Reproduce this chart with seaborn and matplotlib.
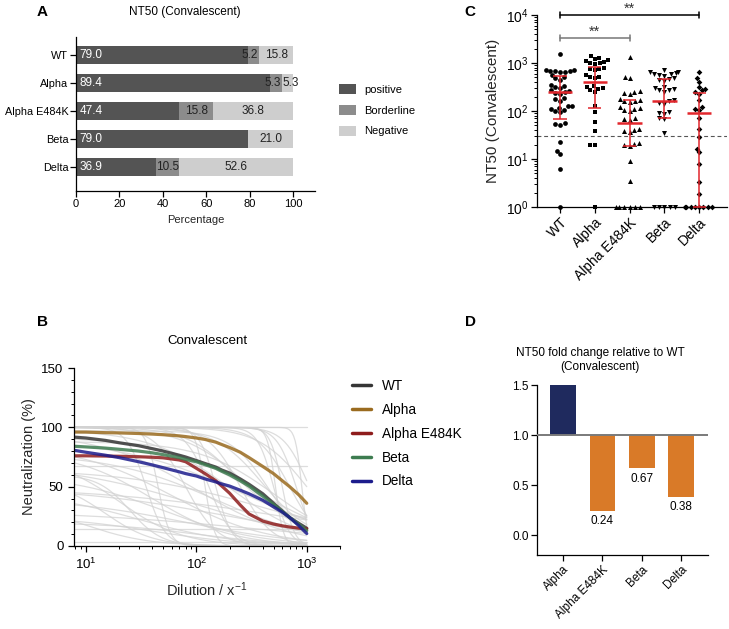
import numpy as np
import pandas as pd
import matplotlib
matplotlib.use('Agg')
import matplotlib.pyplot as plt
import seaborn as sns
from matplotlib.lines import Line2D
from matplotlib.patches import Patch
from matplotlib.ticker import MultipleLocator, LogLocator, NullFormatter
import warnings
warnings.filterwarnings('ignore')

# ---------------- data ----------------
variants = ['WT', 'Alpha', 'Alpha E484K', 'Beta', 'Delta']

# Panel A : percentage of samples
pct_positive = [79.0, 89.4, 47.4, 79.0, 36.9]
pct_borderline = [5.2, 5.3, 15.8, 0.0, 10.5]
pct_negative = [15.8, 5.3, 36.8, 21.0, 52.6]
status_labels = ['positive', 'Borderline', 'Negative']

# Panel C : NT50 values per variant
nt50_wt = [1550, 720, 700, 690, 680, 670, 660, 640, 560, 520, 480, 450, 340, 330, 310,
           300, 270, 255, 245, 235, 225, 185, 175, 165, 130, 125, 118, 112, 105, 100,
           95, 56, 54, 52, 23, 15, 12.5, 6.2, 1]
nt50_alpha = [1400, 1250, 1200, 1150, 1100, 1050, 1000, 980, 950, 800, 760, 740, 700,
              560, 520, 500, 480, 330, 310, 300, 290, 270, 250, 125, 95, 59, 38, 20, 20, 1]
nt50_e484k = [1340, 520, 480, 260, 250, 240, 230, 180, 170, 165, 160, 155, 120, 115, 110,
              105, 100, 70, 68, 66, 42, 40, 38, 36, 22, 21, 20, 19, 9, 3.4, 1, 1, 1, 1, 1, 1]
nt50_beta = [700, 650, 640, 620, 600, 580, 560, 540, 480, 460, 440, 420, 320, 300, 290,
             280, 270, 250, 170, 160, 150, 140, 95, 92, 88, 70, 68, 34, 1, 1, 1, 1, 1]
nt50_delta = [660, 480, 410, 320, 290, 270, 250, 230, 170, 120, 110, 105, 70, 43, 29,
              16.5, 14, 8, 3.3, 1.9, 1, 1, 1, 1, 1, 1, 1, 1]
nt50_median = [245, 410, 57, 162, 92]
nt50_q_low = [68, 118, 18.6, 73, 1]
nt50_q_high = [535, 830, 170, 460, 240]
nt50_threshold = 30
sig_pairs = [('WT', 'Delta', 10000, '**'), ('WT', 'Alpha E484K', 3300, '**')]

# Panel B : mean neutralisation curves
dilutions = [8, 10, 15, 20, 30, 40, 50, 70, 80, 100, 120, 150, 170, 200, 250, 300, 400,
             500, 600, 700, 850, 1000]
neut_wt = [91.7, 91, 89, 87, 84.5, 82, 80, 76.5, 75, 72, 69.5, 66.5, 64, 61.5, 56.5, 52,
           44, 36, 29.5, 24, 19, 15]
neut_alpha = [96, 96, 95.5, 95.3, 94.8, 94.3, 93.8, 92.8, 92.2, 91, 89.8, 87.5, 85.5, 83,
              79, 74.5, 67, 61, 55, 50, 43, 36]
neut_e484k = [76, 76, 75.8, 75.6, 75.2, 74.8, 74.3, 72.5, 71, 65.5, 61, 55, 50.5, 44.5,
              34.5, 27, 21, 18.5, 17, 16, 15, 14.5]
neut_beta = [84, 83.5, 82.5, 81.5, 80, 78.5, 77, 74.5, 73, 71, 68.5, 65.5, 63, 60, 55,
             50.5, 42, 35, 29, 24, 18, 13]
neut_delta = [80.5, 79, 76.5, 74.5, 71, 68.3, 66, 62.5, 61, 59, 56.5, 54, 52.3, 50.5, 47,
              44, 38.5, 33, 28.5, 24, 17, 10.5]

# individual fitted curves (4PL parameters) shown in grey
gray_top = [100, 100, 100, 100, 100, 100, 98, 100, 100, 95, 90, 85, 100, 100, 80, 75, 70,
            60, 55, 50, 45, 40, 35, 30, 25, 100, 67, 14, 3, 100, 100, 92, 88, 100, 65, 100,
            100, 78, 50, 20, 100, 97, 60, 100, 100]
gray_bottom = [0, 0, 0, 0, 5, 0, 0, 0, 0, 0, 0, 0, 0, 0, 0, 0, 0, 0, 0, 0, 0, 0, 0, 0, 0,
               100, 67, 14, 3, 0, 10, 0, 0, 20, 0, 0, 0, 0, 0, 0, 0, 0, 0, 0, 0]
gray_ic50 = [600, 500, 800, 700, 400, 300, 200, 150, 120, 100, 250, 60, 45, 35, 40, 20, 100,
             50, 15, 200, 30, 80, 10, 300, 40, 1, 1, 1, 1, 900, 1000, 350, 500, 220, 400, 250,
             80, 150, 600, 100, 1000, 450, 25, 520, 130]
gray_hill = [8, 6, 5, 3, 2, 1.5, 1.2, 6, 10, 1, 0.8, 1, 8, 5, 1.2, 1.5, 0.7, 1, 2, 0.6, 1,
             0.8, 1.5, 0.5, 1, 1, 1, 1, 1, 15, 4, 1, 1.3, 2, 0.7, 3, 3, 0.9, 0.5, 1, 2, 2.5,
             3, 12, 4]

# Panel D : fold change relative to WT
fold_variants = ['Alpha', 'Alpha E484K', 'Beta', 'Delta']
fold_change = [1.5, 0.24, 0.67, 0.38]

# ---------------- style ----------------
sns.set_theme(style='ticks')
plt.rcParams['font.family'] = ['Liberation Sans', 'DejaVu Sans']
plt.rcParams['mathtext.fontset'] = 'custom'
plt.rcParams['mathtext.rm'] = 'Liberation Sans'
plt.rcParams['mathtext.it'] = 'Liberation Sans'
plt.rcParams['mathtext.bf'] = 'Liberation Sans:bold'
plt.rcParams['axes.linewidth'] = 0.9
plt.rcParams['xtick.major.width'] = 0.9
plt.rcParams['ytick.major.width'] = 0.9
plt.rcParams['xtick.minor.width'] = 0.7
plt.rcParams['ytick.minor.width'] = 0.7
plt.rcParams['xtick.major.size'] = 4
plt.rcParams['ytick.major.size'] = 4
plt.rcParams['xtick.minor.size'] = 2.5
plt.rcParams['ytick.minor.size'] = 2.5
plt.rcParams['axes.edgecolor'] = 'black'
plt.rcParams['xtick.color'] = 'black'
plt.rcParams['ytick.color'] = 'black'
plt.rcParams['text.color'] = 'black'

W, H = 729, 629
fig = plt.figure(figsize=(W / 100, H / 100), dpi=100)


def rect(l, t, r, b):
    return [l / W, 1 - b / H, (r - l) / W, (b - t) / H]


axA = fig.add_axes(rect(76, 37, 315, 191))
axC = fig.add_axes(rect(537, 15, 727, 207))
axB = fig.add_axes(rect(74, 368, 340, 546))
axD = fig.add_axes(rect(537, 385, 708, 555))

for ax in (axA, axB, axC, axD):
    sns.despine(ax=ax)

# ---------------- Panel A ----------------
c_pos, c_bord, c_neg = '#545454', '#8c8c8c', '#cecece'
dfA = pd.DataFrame({'variant': variants, 'pos': pct_positive,
                    'bord': pct_borderline, 'neg': pct_negative})
dfA['pb'] = dfA['pos'] + dfA['bord']
dfA['total'] = dfA['pb'] + dfA['neg']
for col, c in (('total', c_neg), ('pb', c_bord), ('pos', c_pos)):
    sns.barplot(data=dfA, y='variant', x=col, order=variants, orient='h', color=c,
                saturation=1, width=0.66, linewidth=0, errorbar=None, ax=axA)
for i, row in dfA.iterrows():
    axA.text(1.5, i, f"{row['pos']:.1f}", color='white', ha='left', va='center', fontsize=8.5)
    if row['bord'] > 0:
        if row['bord'] > 8:
            axA.text(row['pos'] + row['bord'] / 2, i, f"{row['bord']:.1f}", color='#222222',
                     ha='center', va='center', fontsize=8.5)
        else:
            axA.text(row['pb'] - 0.6, i, f"{row['bord']:.1f}", color='#222222',
                     ha='right', va='center', fontsize=8.5)
    if row['neg'] < 8:
        axA.text(row['pb'] + 0.3, i, f"{row['neg']:.1f}", color='#222222',
                 ha='left', va='center', fontsize=8.5)
    else:
        axA.text(row['pb'] + row['neg'] / 2, i, f"{row['neg']:.1f}", color='#222222',
                 ha='center', va='center', fontsize=8.5)
axA.set_xlim(0, 110)
axA.set_ylim(4.86, -0.64)
axA.set_xticks([0, 20, 40, 60, 80, 100])
axA.tick_params(axis='y', labelsize=7.8, pad=1.5)
axA.tick_params(axis='x', labelsize=8, pad=2)
axA.set_ylabel('')
axA.set_xlabel('Percentage', fontsize=8, labelpad=4)
handlesA = [Patch(facecolor=c, edgecolor='none') for c in (c_pos, c_bord, c_neg)]
fig.legend(handlesA, status_labels, loc='upper left', bbox_to_anchor=(329 / W, 1 - 74 / H),
           frameon=False, fontsize=8, handlelength=1.5, handleheight=1.0,
           handletextpad=0.8, labelspacing=0.9)
fig.text(185 / W, 1 - 12 / H, 'NT50 (Convalescent)', ha='center', va='center', fontsize=8.5)

# ---------------- Panel B ----------------
grid = np.geomspace(dilutions[0], dilutions[-1], 160)
gray_parts = []
for k, (t, b, ic, h) in enumerate(zip(gray_top, gray_bottom, gray_ic50, gray_hill)):
    yv = b + (t - b) / (1 + (grid / ic) ** h)
    gray_parts.append(pd.DataFrame({'dil': grid, 'neut': yv, 'curve': k}))
gray_df = pd.concat(gray_parts, ignore_index=True)
axB.set_xscale('log')
sns.lineplot(data=gray_df, x='dil', y='neut', units='curve', estimator=None,
             color='#d2d2d2', lw=0.9, alpha=0.75, legend=False, ax=axB)

line_colors = {'WT': '#353535', 'Alpha': '#9a6b1f', 'Alpha E484K': '#8e1c1c',
               'Beta': '#3d7c50', 'Delta': '#1c1c8c'}
main_df = pd.DataFrame({
    'dil': dilutions * 5,
    'neut': neut_wt + neut_alpha + neut_e484k + neut_beta + neut_delta,
    'variant': sum([[v] * len(dilutions) for v in variants], []),
})
sns.lineplot(data=main_df, x='dil', y='neut', hue='variant', hue_order=variants,
             palette=line_colors, lw=2.3, alpha=0.85, legend=False, ax=axB)
for ln in axB.lines[-5:]:
    ln.set_solid_joinstyle('round')
    ln.set_solid_capstyle('round')
axB.set_xlim(7.8, 2000)
axB.set_ylim(0, 150)
axB.set_yticks([0, 50, 100, 150])
axB.yaxis.set_minor_locator(MultipleLocator(10))
axB.xaxis.set_major_locator(LogLocator(base=10, numticks=10))
axB.xaxis.set_minor_locator(LogLocator(base=10, subs=np.arange(2, 10), numticks=20))
axB.xaxis.set_minor_formatter(NullFormatter())
axB.tick_params(labelsize=9.5)
axB.set_xlabel('Dilution / x$^{-1}$', fontsize=10.5, labelpad=6)
axB.set_ylabel('Neutralization (%)', fontsize=10.5, labelpad=4)
axB.set_title('Convalescent', fontsize=9.5, pad=17)
handlesB = [Line2D([], [], color=line_colors[v], lw=2.5) for v in variants]
fig.legend(handlesB, variants, loc='upper left', bbox_to_anchor=(340 / W, 1 - 367 / H),
           frameon=False, fontsize=9.8, handlelength=1.4, handletextpad=0.8,
           labelspacing=0.72)

# ---------------- Panel C ----------------
dfC = pd.DataFrame({
    'variant': sum([[v] * len(a) for v, a in zip(variants, [nt50_wt, nt50_alpha, nt50_e484k,
                                                            nt50_beta, nt50_delta])], []),
    'nt50': nt50_wt + nt50_alpha + nt50_e484k + nt50_beta + nt50_delta,
})
axC.set_yscale('log')
markers = {'WT': 'o', 'Alpha': 's', 'Alpha E484K': '^', 'Beta': 'v', 'Delta': 'D'}
msize = {'WT': 3.4, 'Alpha': 3.3, 'Alpha E484K': 3.6, 'Beta': 3.6, 'Delta': 2.9}
for v in variants:
    sns.swarmplot(data=dfC[dfC['variant'] == v], x='variant', y='nt50', order=variants,
                  marker=markers[v], color='black', size=msize[v], ax=axC, zorder=3)
for coll in axC.collections:
    coll.set_clip_on(False)
red = '#e2262c'
xi = np.arange(len(variants))
axC.hlines(nt50_median, xi - 0.35, xi + 0.35, color=red, lw=1.8, zorder=4)
axC.vlines(xi, nt50_q_low, nt50_q_high, color=red, lw=1.1, zorder=4, clip_on=False)
axC.hlines(nt50_q_low, xi - 0.19, xi + 0.19, color=red, lw=1.1, zorder=4, clip_on=False)
axC.hlines(nt50_q_high, xi - 0.19, xi + 0.19, color=red, lw=1.1, zorder=4)
axC.axhline(nt50_threshold, color='#555555', lw=0.8, ls=(0, (3.5, 2.5)), zorder=2)
for (a, b, yv, txt), col in zip(sig_pairs, ('black', '#777777')):
    x0, x1 = variants.index(a), variants.index(b)
    axC.plot([x0, x1], [yv, yv], color=col, lw=1.1, clip_on=False)
    for xx in (x0, x1):
        axC.plot([xx, xx], [yv / 1.14, yv * 1.14], color=col, lw=1.1, clip_on=False)
    axC.text((x0 + x1) / 2, yv * 1.1, txt, ha='center', va='baseline', fontsize=10.5,
             color='#333333')
axC.set_xlim(-0.66, 4.8)
axC.set_ylim(1, 1e4)
axC.yaxis.set_major_locator(LogLocator(base=10, numticks=10))
axC.yaxis.set_minor_locator(LogLocator(base=10, subs=np.arange(2, 10), numticks=40))
axC.yaxis.set_minor_formatter(NullFormatter())
axC.tick_params(axis='y', labelsize=10, pad=2)
axC.tick_params(axis='x', labelsize=10, pad=2)
for lab in axC.get_xticklabels():
    lab.set_rotation(45)
    lab.set_ha('right')
    lab.set_rotation_mode('anchor')
axC.set_xlabel('')
axC.set_ylabel('NT50 (Convalescent)', fontsize=11, labelpad=4)

# ---------------- Panel D ----------------
navy, orange = '#1f2a5e', '#d97a28'
dfD = pd.DataFrame({'variant': fold_variants, 'fold': fold_change})
dfD['delta'] = dfD['fold'] - 1
bar_cols = {v: (navy if f > 1 else orange) for v, f in zip(fold_variants, fold_change)}
sns.barplot(data=dfD, x='variant', y='delta', hue='variant', order=fold_variants,
            palette=bar_cols, saturation=1, width=0.66, linewidth=0, errorbar=None,
            legend=False, bottom=1, ax=axD)
axD.axhline(1.0, color='#7a7a7a', lw=1.4, zorder=3)
for i, f in enumerate(fold_change):
    if f < 1:
        axD.text(i, f - 0.045, f'{f:.2f}', ha='center', va='top', fontsize=8.5)
axD.set_xlim(-0.67, 3.69)
axD.set_ylim(-0.2, 1.5)
axD.set_yticks([0.0, 0.5, 1.0, 1.5])
axD.set_yticklabels(['0.0', '0.5', '1.0', '1.5'])
axD.tick_params(axis='y', labelsize=8.5, pad=2)
axD.tick_params(axis='x', labelsize=8.5, pad=2)
for lab in axD.get_xticklabels():
    lab.set_rotation(45)
    lab.set_ha('right')
    lab.set_rotation_mode('anchor')
axD.set_xlabel('')
axD.set_ylabel('')
fig.text(600 / W, 1 - 360 / H, 'NT50 fold change relative to WT\n(Convalescent)',
         ha='center', va='center', fontsize=8.5, linespacing=1.3)

# ---------------- panel letters ----------------
for letter, (px, py) in {'A': (42, 12), 'B': (42, 322), 'C': (470, 12), 'D': (470, 322)}.items():
    fig.text(px / W, 1 - py / H, letter, fontsize=11, fontweight='bold', ha='center', va='center')

fig.savefig('out.png', dpi=100)
